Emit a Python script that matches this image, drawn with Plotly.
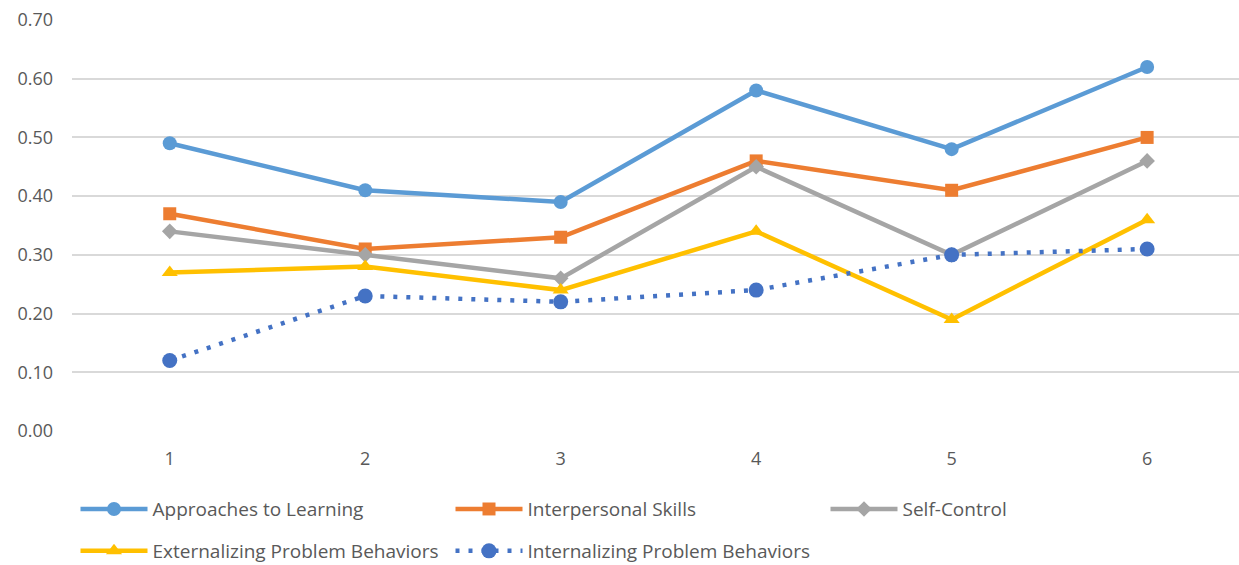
import plotly.graph_objects as go

waves = [1, 2, 3, 4, 5, 6]
approaches = [0.49, 0.41, 0.39, 0.58, 0.48, 0.62]
interpersonal = [0.37, 0.31, 0.33, 0.46, 0.41, 0.50]
self_control = [0.34, 0.30, 0.26, 0.45, 0.30, 0.46]
externalizing = [0.27, 0.28, 0.24, 0.34, 0.19, 0.36]
internalizing = [0.12, 0.23, 0.22, 0.24, 0.30, 0.31]
y_ticks = [0.0, 0.1, 0.2, 0.3, 0.4, 0.5, 0.6, 0.7]

FONT = "Open Sans"
TXT = "#595959"

series = [
    ("Approaches to Learning", approaches, "#5B9BD5", "circle", 14, "solid", "legend"),
    ("Interpersonal Skills", interpersonal, "#ED7D31", "square", 13, "solid", "legend"),
    ("Self-Control", self_control, "#A5A5A5", "diamond", 12, "solid", "legend"),
    ("Externalizing Problem Behaviors", externalizing, "#FFC000", "triangle-up", 14, "solid", "legend2"),
    ("Internalizing Problem Behaviors", internalizing, "#4472C4", "circle", 15, "4px,9px", "legend2"),
]

fig = go.Figure()
for name, vals, color, sym, size, dash, leg in series:
    fig.add_trace(go.Scatter(
        x=waves, y=vals, name=name, mode="lines+markers",
        line=dict(color=color, width=4.5, dash=dash),
        marker=dict(symbol=sym, size=size, color=color),
        cliponaxis=False, legend=leg,
    ))

legend_common = dict(
    orientation="h", x=0.003, xanchor="left", yanchor="middle",
    font=dict(family=FONT, size=19, color=TXT),
    entrywidth=293, entrywidthmode="pixels", itemwidth=67,
    bgcolor="rgba(0,0,0,0)",
)

fig.update_layout(
    width=1239, height=565,
    margin=dict(l=72, r=0, t=20, b=134, autoexpand=False),
    paper_bgcolor="white", plot_bgcolor="white",
    font=dict(family=FONT, size=18, color=TXT),
    xaxis=dict(
        range=[0.5, 6.47], tickvals=waves, ticktext=[str(w) for w in waves],
        showgrid=False, zeroline=False, showline=False,
        ticklabelstandoff=15, tickfont=dict(size=18, color=TXT),
    ),
    yaxis=dict(
        range=[0, 0.70], tickvals=y_ticks, tickformat=".2f",
        showgrid=True, gridcolor="#D9D9D9", gridwidth=1.5,
        zeroline=False, showline=False,
        ticklabelstandoff=18, tickfont=dict(size=18, color=TXT),
    ),
    legend=dict(y=-0.19, **legend_common),
    legend2=dict(y=-0.292, **legend_common),
    showlegend=True,
)

fig.write_html("out.html")
